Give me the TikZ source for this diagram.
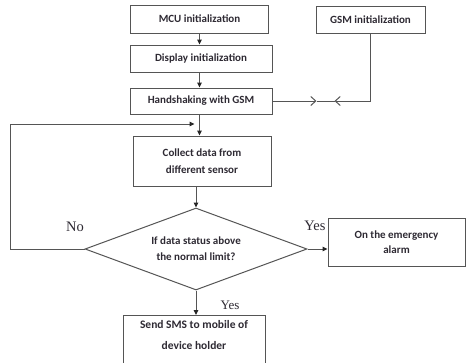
\documentclass[tikz,border=0pt]{standalone}
\usepackage{fontspec}
\setmainfont{Carlito}
\newfontfamily\serifl{Liberation Serif}
\usetikzlibrary{shapes.geometric,arrows.meta,calc}
\definecolor{linec}{HTML}{555555}
\definecolor{txtc}{HTML}{2E2A33}
\tikzset{
  box/.style={draw=linec, line width=1pt, rectangle, inner sep=0pt, align=center,
    font=\fontsize{11}{16}\selectfont\bfseries, text=txtc},
  decis/.style={draw=linec, line width=1pt, diamond, inner sep=0pt, aspect=2.7, align=center,
    font=\fontsize{11}{16}\selectfont\bfseries, text=txtc},
  arr/.style={draw=linec, line width=1pt, -{Triangle[length=5pt,width=4.5pt,color=black!85]}},
  barb/.style={draw=linec, line width=1pt, -{Straight Barb[length=5pt,width=9pt]}},
  plain/.style={draw=linec, line width=1pt},
  lab/.style={font=\serifl\fontsize{14.5}{16}\selectfont, text=txtc, inner sep=0pt}
}
\begin{document}
\begin{tikzpicture}[x=1pt,y=-1pt]
\useasboundingbox[fill=white] (0,0) rectangle (466,362);
\node[box, minimum width=138, minimum height=28] (mcu) at (199.5,19) {MCU initialization};
\node[box, minimum width=109, minimum height=27] (gsm) at (370.5,19.5) {GSM initialization};
\node[box, minimum width=142, minimum height=27] (disp) at (201,58.5) {Display initialization};
\node[box, minimum width=142, minimum height=26] (hand) at (201,101) {Handshaking with GSM};
\node[box, minimum width=138, minimum height=50, font=\fontsize{11}{17}\selectfont\bfseries] (coll) at (202,161) {Collect data from\\different sensor};
\node[decis, minimum width=222, minimum height=82] (dia) at (196,249) {If data status above\\the normal limit?};
\node[box, minimum width=137, minimum height=48, font=\fontsize{11}{15}\selectfont\bfseries] (emerg) at (396.5,242) {On the emergency\\alarm};
\node[box, minimum width=142, minimum height=60, anchor=north] (send) at (194,315) {};
\node[box, draw=none, font=\fontsize{11.5}{21}\selectfont\bfseries] (sendt) at (194,335.5) {Send SMS to mobile of\\device holder};
% main column
\draw[arr] (mcu.south) -- (mcu.south |- disp.north);
\draw[arr] (mcu.south |- disp.south) -- (mcu.south |- hand.north);
\draw[arr] (mcu.south |- hand.south) -- (mcu.south |- coll.north);
\draw[arr] (coll.south -| dia.north) -- (dia.north);
\draw[arr] (dia.east) -- (dia.east -| emerg.west);
\draw[arr] (dia.south) -- (dia.south |- send.north);
% feedback loop
\coordinate (lft) at (10,124);
\coordinate (fb) at (194.5,124);
\draw[arr] (dia.west) -| (lft) -- (fb);
% GSM link
\coordinate (j1) at ($(hand.east)+(44,0)$);
\coordinate (j2) at ($(hand.east)+(62,0)$);
\draw[barb] (hand.east) -- (j1);
\draw[plain] (j1) -- (j2);
\draw[barb] (gsm.south) |- (j2);
% labels
\node[lab] (no) at (75,227) {No};
\node[lab] (yes1) at (315,226) {Yes};
\node[lab, font=\serifl\fontsize{13}{15}\selectfont] (yes2) at (230,305) {Yes};
\end{tikzpicture}
\end{document}
